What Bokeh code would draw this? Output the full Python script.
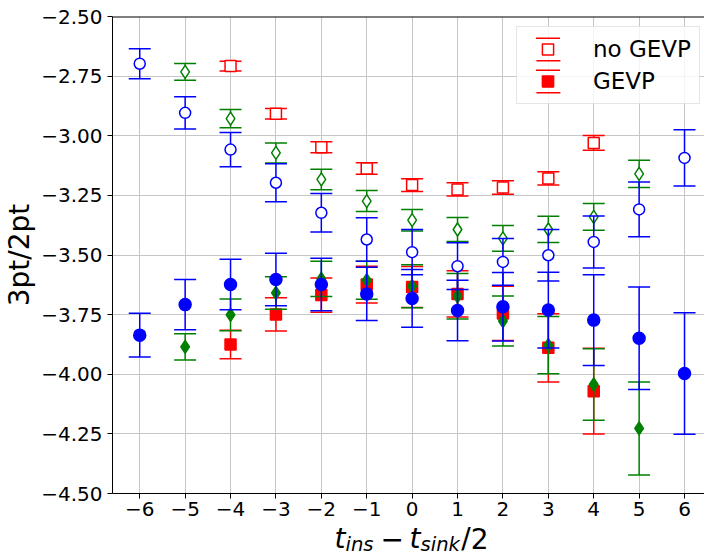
import numpy as np
from bokeh.plotting import figure
from bokeh.layouts import column
from bokeh.models import (ColumnDataSource, FixedTicker, Range1d, Legend, LegendItem, Span)
from bokeh.core.properties import value
from bokeh.embed import file_html
from bokeh.resources import INLINE

# ---------------- data ----------------
x_red = [-4, -3, -2, -1, 0, 1, 2, 3, 4]
red_open = [-2.708, -2.908, -3.048, -3.137, -3.207, -3.225, -3.217, -3.179, -3.030]
red_open_err = [0.020, 0.022, 0.023, 0.024, 0.027, 0.028, 0.028, 0.028, 0.031]
red_fill = [-3.875, -3.749, -3.668, -3.624, -3.634, -3.663, -3.745, -3.889, -4.071]
red_fill_err = [0.060, 0.070, 0.072, 0.077, 0.086, 0.097, 0.114, 0.143, 0.180]

x_green = [-5, -4, -3, -2, -1, 0, 1, 2, 3, 4, 5]
green_open = [-2.732, -2.928, -3.072, -3.183, -3.274, -3.354, -3.393, -3.430, -3.393, -3.340, -3.160]
green_open_err = [0.035, 0.038, 0.042, 0.043, 0.044, 0.045, 0.050, 0.054, 0.055, 0.056, 0.057]
green_fill = [-3.885, -3.751, -3.659, -3.600, -3.606, -3.631, -3.673, -3.777, -3.878, -4.043, -4.227]
green_fill_err = [0.055, 0.067, 0.068, 0.074, 0.080, 0.090, 0.095, 0.105, 0.120, 0.150, 0.195]

x_blue = [-6, -5, -4, -3, -2, -1, 0, 1, 2, 3, 4, 5, 6]
blue_open = [-2.698, -2.904, -3.058, -3.197, -3.323, -3.435, -3.488, -3.547, -3.529, -3.501, -3.445, -3.309, -3.093]
blue_open_err = [0.063, 0.068, 0.072, 0.080, 0.081, 0.091, 0.095, 0.098, 0.098, 0.108, 0.109, 0.115, 0.118]
blue_fill = [-3.836, -3.708, -3.624, -3.603, -3.624, -3.663, -3.682, -3.733, -3.717, -3.731, -3.773, -3.849, -3.997]
blue_fill_err = [0.092, 0.105, 0.106, 0.110, 0.110, 0.112, 0.121, 0.127, 0.144, 0.159, 0.190, 0.215, 0.255]

x_ticks = [-6, -5, -4, -3, -2, -1, 0, 1, 2, 3, 4, 5, 6]
x_tick_labels = ["\u22126", "\u22125", "\u22124", "\u22123", "\u22122", "\u22121",
                 "0", "1", "2", "3", "4", "5", "6"]
y_ticks = [-4.5, -4.25, -4.0, -3.75, -3.5, -3.25, -3.0, -2.75, -2.5]
y_tick_labels = ["\u22124.50", "\u22124.25", "\u22124.00", "\u22123.75", "\u22123.50",
                 "\u22123.25", "\u22123.00", "\u22122.75", "\u22122.50"]

legend_labels = ["no GEVP", "GEVP"]
y_label = "3pt/2pt"
# x axis label t_ins - t_sink/2, written in pieces
x_label_parts = ["t", "ins", "\u2212", "t", "sink", "/", "2"]

FONT = "DejaVu Sans"

x_range = Range1d(-6.6, 6.44)

# ---------------- main plot ----------------
p = figure(width=704, height=526, output_backend="svg", toolbar_location=None,
           x_range=x_range, y_range=Range1d(-4.5, -2.5),
           min_border_left=112, min_border_right=0, min_border_top=16,
           min_border_bottom=33)
p.outline_line_color = None
p.background_fill_color = "white"
p.border_fill_color = "white"

xa = p.xaxis[0]
xa.ticker = FixedTicker(ticks=x_ticks)
xa.major_label_overrides = dict(zip(x_ticks, x_tick_labels))
xa.major_label_standoff = 3
ya = p.yaxis[0]
ya.ticker = FixedTicker(ticks=y_ticks)
ya.major_label_overrides = dict(zip(y_ticks, y_tick_labels))
ya.major_label_standoff = 5
for ax in (xa, ya):
    ax.axis_line_color = "black"
    ax.axis_line_width = 1
    ax.major_tick_line_color = "black"
    ax.major_tick_out = 5
    ax.major_tick_in = 0
    ax.minor_tick_out = 0
    ax.minor_tick_in = 0
    ax.major_label_text_font = FONT
    ax.major_label_text_font_size = "20px"
    ax.major_label_text_color = "black"
ya.axis_label = y_label
ya.axis_label_text_font = FONT
ya.axis_label_text_font_size = "28px"
ya.axis_label_text_font_style = "normal"
ya.axis_label_text_color = "black"
ya.axis_label_standoff = 2

p.xgrid.ticker = FixedTicker(ticks=x_ticks)
p.ygrid.ticker = FixedTicker(ticks=y_ticks)
p.grid.grid_line_color = "#c6c6c6"
p.grid.grid_line_width = 1

# top spine
p.add_layout(Span(location=-2.5, dimension="width", line_color="black", line_width=2))


def add_series(xs, ys, es, color, marker, size, fill):
    ys = np.array(ys)
    es = np.array(es)
    src = ColumnDataSource(dict(x=xs, y=ys, lo=ys - es, hi=ys + es))
    p.segment(x0="x", y0="lo", x1="x", y1="hi", source=src, line_color=color, line_width=1.5)
    p.scatter("x", "lo", source=src, marker="dash", size=22, line_color=color, line_width=1.5)
    p.scatter("x", "hi", source=src, marker="dash", size=22, line_color=color, line_width=1.5)
    return p.scatter("x", "y", source=src, marker=marker, size=size, line_color=color,
                     fill_color=fill, line_width=1.5)


r_red_open = add_series(x_red, red_open, red_open_err, "#ff0000", "square", 11, "white")
r_red_fill = add_series(x_red, red_fill, red_fill_err, "#ff0000", "square", 11, "#ff0000")
add_series(x_green, green_open, green_open_err, "#008000", "diamond", 13, "white")
add_series(x_green, green_fill, green_fill_err, "#008000", "diamond", 13, "#008000")
add_series(x_blue, blue_open, blue_open_err, "#0000ff", "circle", 11, "white")
add_series(x_blue, blue_fill, blue_fill_err, "#0000ff", "circle", 12, "#0000ff")

# legend-only cap glyph (zero-size rects: invisible in the plot; in the legend the
# dashed rectangle outline leaves only the two error-bar caps)
cap_src = ColumnDataSource(dict(x=x_red, y=red_open))
caps_leg = p.vbar(x="x", width=0, top="y", bottom="y", source=cap_src, fill_color=None,
                  line_color="#ff0000", line_width=1.5, line_dash="24 34",
                  line_dash_offset=52)

legend = Legend(items=[LegendItem(label=legend_labels[0], renderers=[caps_leg, r_red_open]),
                       LegendItem(label=legend_labels[1], renderers=[caps_leg, r_red_fill])],
                location=(404, 389), glyph_width=45, glyph_height=28, padding=8,
                spacing=4, label_standoff=23, label_text_font=FONT,
                label_text_font_size="23px", label_text_color="black",
                border_line_color="#cccccc", border_line_width=1,
                background_fill_color="white", background_fill_alpha=0.8, margin=0)
p.add_layout(legend)

# ---------------- strip below: x axis label ----------------
p2 = figure(width=704, height=26, output_backend="svg", toolbar_location=None,
            x_range=x_range, y_range=Range1d(0, 26),
            min_border_left=112, min_border_right=0, min_border_top=0,
            min_border_bottom=0, x_axis_location=None, y_axis_location=None)
p2.outline_line_color = None
p2.grid.visible = False
p2.background_fill_color = "white"
p2.border_fill_color = "white"

part_x = [-1.710, -1.468, -0.697, -0.058, 0.184, 1.083, 1.290]
part_y = [14.5, 7.7, 14.5, 14.5, 7.7, 14.5, 14.5]
part_size = ["28px", "19.6px", "28px", "28px", "19.6px", "28px", "28px"]
part_style = ["italic", "italic", "normal", "italic", "italic", "normal", "normal"]
for txt, xx, yy, fs, st in zip(x_label_parts, part_x, part_y, part_size, part_style):
    p2.text(x=[xx], y=[yy], text=[txt], text_align="left", text_baseline="alphabetic",
            text_font=value(FONT), text_font_size=fs, text_font_style=st,
            text_color="black")

layout = column(p, p2, spacing=0)
open("out.html", "w").write(file_html(layout, INLINE))
